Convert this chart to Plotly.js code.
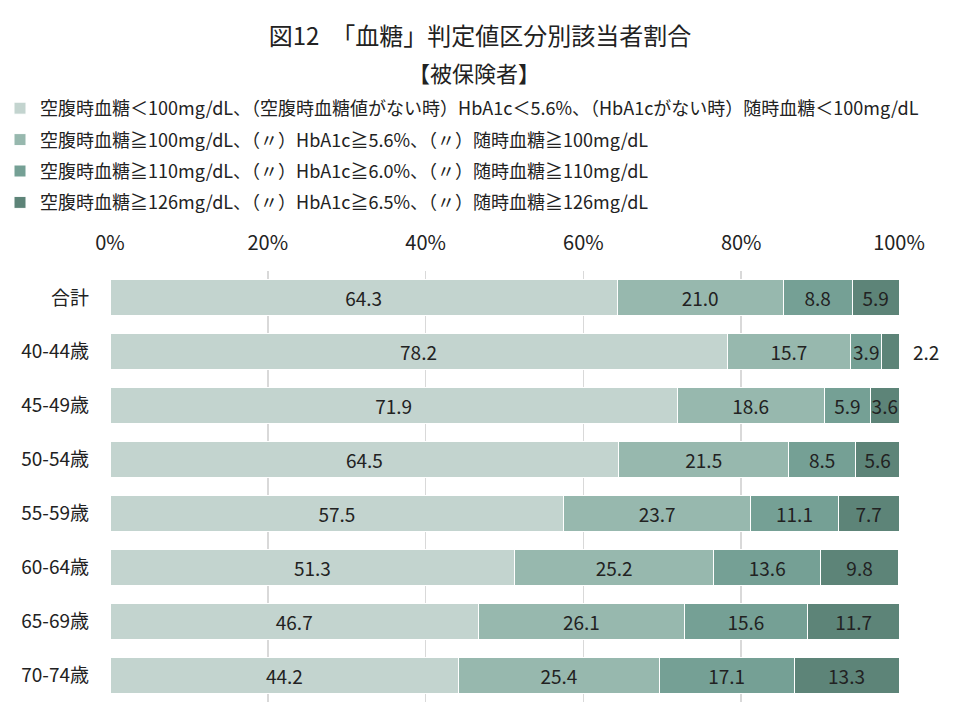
<!DOCTYPE html>
<html><head><meta charset="utf-8">
<script src="https://cdn.plot.ly/plotly-3.0.1.min.js"></script>
<style>body{margin:0;background:#fff}#chart{width:960px;height:720px}</style>
</head><body><div id="chart"></div>
<script>
const categories = ["合計","40-44歳","45-49歳","50-54歳","55-59歳","60-64歳","65-69歳","70-74歳"];
const seriesNames = [
  "空腹時血糖＜100mg/dL、（空腹時血糖値がない時）HbA1c＜5.6%、（HbA1cがない時）随時血糖＜100mg/dL",
  "空腹時血糖≧100mg/dL、（〃）HbA1c≧5.6%、（〃）随時血糖≧100mg/dL",
  "空腹時血糖≧110mg/dL、（〃）HbA1c≧6.0%、（〃）随時血糖≧110mg/dL",
  "空腹時血糖≧126mg/dL、（〃）HbA1c≧6.5%、（〃）随時血糖≧126mg/dL"
];
const s1 = [64.3, 78.2, 71.9, 64.5, 57.5, 51.3, 46.7, 44.2];
const s2 = [21.0, 15.7, 18.6, 21.5, 23.7, 25.2, 26.1, 25.4];
const s3 = [8.8, 3.9, 5.9, 8.5, 11.1, 13.6, 15.6, 17.1];
const s4 = [5.9, 2.2, 3.6, 5.6, 7.7, 9.8, 11.7, 13.3];
const xTicks = [0, 20, 40, 60, 80, 100];
const colors = ["#c3d4cf", "#97b8ae", "#75a095", "#5d8478"];

const FONT = "'Noto Sans CJK JP', 'Noto Sans', sans-serif";
const series = [s1, s2, s3, s4];
const minInside = 3;
const traces = series.map((vals, i) => ({
  type: "bar", orientation: "h", name: seriesNames[i],
  y: categories, x: vals,
  text: vals.map(v => v < minInside ? "" : v.toFixed(1)),
  textposition: "inside", insidetextanchor: "middle", constraintext: "none",
  textfont: {family: FONT, size: 19, color: "#222"},
  marker: {color: colors[i], line: {color: "#ffffff", width: 1}},
  legendgroup: "g" + i, hoverinfo: "x+name"
}));

const M = {l: 110, r: 61, t: 271, b: 18};
const plotW = 960 - M.l - M.r, plotH = 720 - M.t - M.b;
const xMax = 100;
const annotations = [];
// small segments labelled outside the bar end
series.forEach((vals, i) => {
  vals.forEach((v, j) => {
    if (v < minInside) {
      const total = series.reduce((a, s) => a + s[j], 0);
      annotations.push({x: total / xMax, y: categories[j], xref: "paper", yref: "y", text: v.toFixed(1),
        showarrow: false, xanchor: "left", xshift: 12, font: {family: FONT, size: 19, color: "#222"}});
    }
  });
});
annotations.push({text: "【被保険者】", xref: "paper", yref: "paper",
  x: (474 - M.l) / plotW, y: (720 - M.b - 72) / plotH,
  xanchor: "center", yanchor: "middle", showarrow: false, font: {family: FONT, size: 22, color: "#222"}});

const layout = {
  width: 960, height: 720,
  margin: {l: M.l, r: M.r, t: M.t, b: M.b, autoexpand: false},
  paper_bgcolor: "#fff", plot_bgcolor: "#fff",
  font: {family: FONT, color: "#222"},
  title: {text: "図12　「血糖」判定値区分別該当者割合", x: 0.5, xanchor: "center",
    yref: "container", y: 1 - 37/720, yanchor: "middle", font: {family: FONT, size: 24, color: "#222"}},
  barmode: "stack", bargap: 0.33,
  xaxis: {side: "top", range: [0, xMax], tickvals: xTicks, ticktext: xTicks.map(v => v + "%"),
    showgrid: true, gridcolor: "#d9d9d9", gridwidth: 1.5, zeroline: false, showline: false,
    ticks: "outside", ticklen: 12, tickcolor: "rgba(0,0,0,0)",
    tickfont: {family: FONT, size: 20, color: "#222"}, fixedrange: true},
  yaxis: {autorange: "reversed", type: "category", showgrid: false, zeroline: false, showline: false,
    ticks: "", ticklabelstandoff: 20, tickfont: {family: FONT, size: 19, color: "#222"}},
  showlegend: true,
  legend: {xref: "container", yref: "container", x: 0, y: 1 - 90/720, xanchor: "left", yanchor: "top",
    orientation: "v", traceorder: "grouped", tracegroupgap: 5, itemwidth: 30,
    font: {family: FONT, size: 18, color: "#222"}, bgcolor: "rgba(0,0,0,0)"},
  annotations: annotations
};
Plotly.newPlot("chart", traces, layout, {displayModeBar: false, staticPlot: true});
</script></body></html>
